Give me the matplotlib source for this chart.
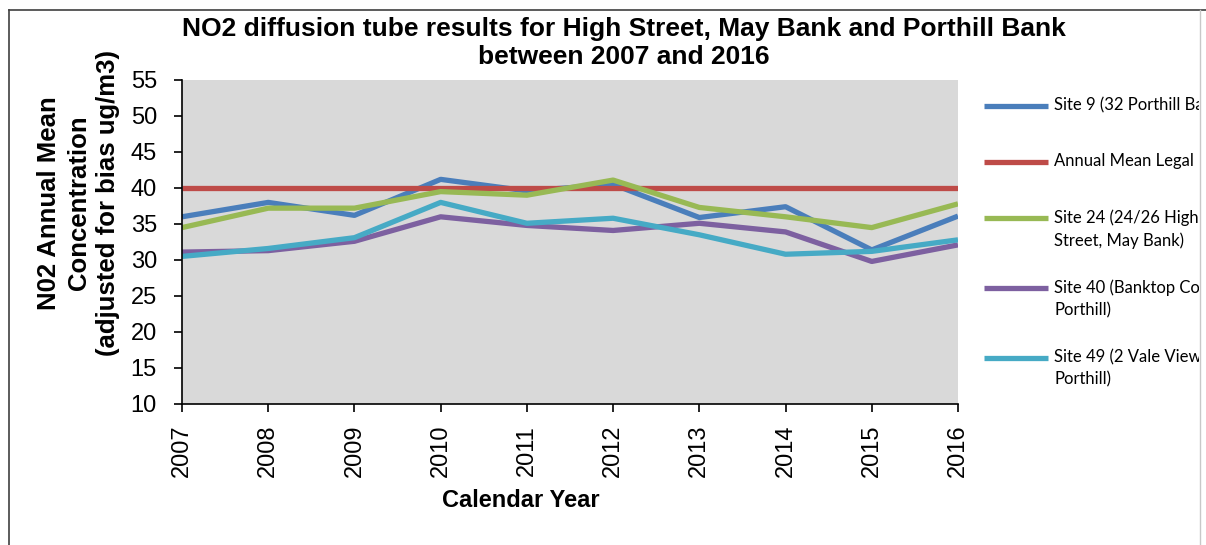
import matplotlib
matplotlib.use('Agg')
import matplotlib.pyplot as plt
from matplotlib.lines import Line2D

# chart values
years = [2007, 2008, 2009, 2010, 2011, 2012, 2013, 2014, 2015, 2016]
site9 = [36.0, 38.0, 36.2, 41.2, 39.6, 40.5, 35.9, 37.4, 31.4, 36.1]
legal_limit = [40, 40, 40, 40, 40, 40, 40, 40, 40, 40]
site24 = [34.5, 37.2, 37.2, 39.5, 39.0, 41.1, 37.3, 36.0, 34.5, 37.8]
site40 = [31.1, 31.3, 32.6, 36.0, 34.8, 34.1, 35.1, 33.9, 29.8, 32.1]
site49 = [30.5, 31.6, 33.1, 38.0, 35.1, 35.8, 33.5, 30.8, 31.2, 32.8]

labels = ["Site 9 (32 Porthill Bank)", "Annual Mean Legal Limit",
          "Site 24 (24/26 High\nStreet, May Bank)",
          "Site 40 (Banktop Court,\nPorthill)",
          "Site 49 (2 Vale View,\nPorthill)"]
colors = ["#4A7EBB", "#BE4B48", "#98B954", "#7D60A0", "#46AAC5"]
series = [site9, legal_limit, site24, site40, site49]

W, H = 1206, 545
fig = plt.figure(figsize=(W / 100, H / 100), dpi=100)
plt.rcParams['font.family'] = ['Liberation Sans', 'DejaVu Sans']

# plot area in pixels: left 182, right 958, top 80, bottom 404
ax = fig.add_axes([182 / W, 1 - 404 / H, (958 - 182) / W, (404 - 80) / H])
ax.set_facecolor("#D9D9D9")

for vals, col in zip(series, colors):
    ax.plot(years, vals, color=col, lw=3.8, solid_capstyle='butt')

ax.set_xlim(years[0], years[-1])
ax.set_ylim(10, 55)
ax.set_yticks(range(10, 56, 5))
ax.set_xticks(years)
ax.set_xticklabels([str(y) for y in years], rotation=90)
for s in ["top", "right"]:
    ax.spines[s].set_visible(False)
for s in ["left", "bottom"]:
    ax.spines[s].set_linewidth(1.2)
    ax.spines[s].set_color("black")
ax.tick_params(axis='y', length=6, width=1.2, pad=12, labelsize=17)
ax.tick_params(axis='x', length=6, width=1.2, pad=9, labelsize=17)

ax.set_ylabel("N02 Annual Mean\nConcentration\n(adjusted for bias ug/m3)",
              fontsize=18.5, fontweight='bold', linespacing=1.28)
ax.yaxis.set_label_coords(-0.080, 0.62)
ax.set_xlabel("Calendar Year", fontsize=17, fontweight='bold')
ax.xaxis.set_label_coords(0.436, -0.262)

fig.text(624 / W, 1 - 43 / H,
         "NO2 diffusion tube results for High Street, May Bank and Porthill Bank\nbetween 2007 and 2016",
         ha='center', va='center', fontsize=19, fontweight='bold', linespacing=1.22)

# legend, cut off at the right border like the reference
lx0, lx1 = 965, 1199
lax = fig.add_axes([lx0 / W, 0, (lx1 - lx0) / W, 1])
lax.set_xlim(lx0, lx1)
lax.set_ylim(H, 0)
lax.axis('off')
rows = [106, 162, 218, 288, 358]
for lab, col, yy in zip(labels, colors, rows):
    lax.plot([984, 1048], [yy, yy], color=col, lw=3.8, solid_capstyle='butt')
    lax.text(1054, yy - 9, lab, ha='left', va='top', fontsize=12,
             family=['Lato', 'DejaVu Sans'], linespacing=1.5, clip_on=True)

# frame lines of the chart area
fig.add_artist(Line2D([9 / W, 1], [1 - 10 / H, 1 - 10 / H], color="#404040", lw=1.2))
fig.add_artist(Line2D([9 / W, 9 / W], [0, 1 - 10 / H], color="#404040", lw=1.2))
fig.add_artist(Line2D([1200 / W, 1200 / W], [0, 1 - 10 / H], color="#C8C8C8", lw=1))

fig.savefig("out.png", dpi=100)
